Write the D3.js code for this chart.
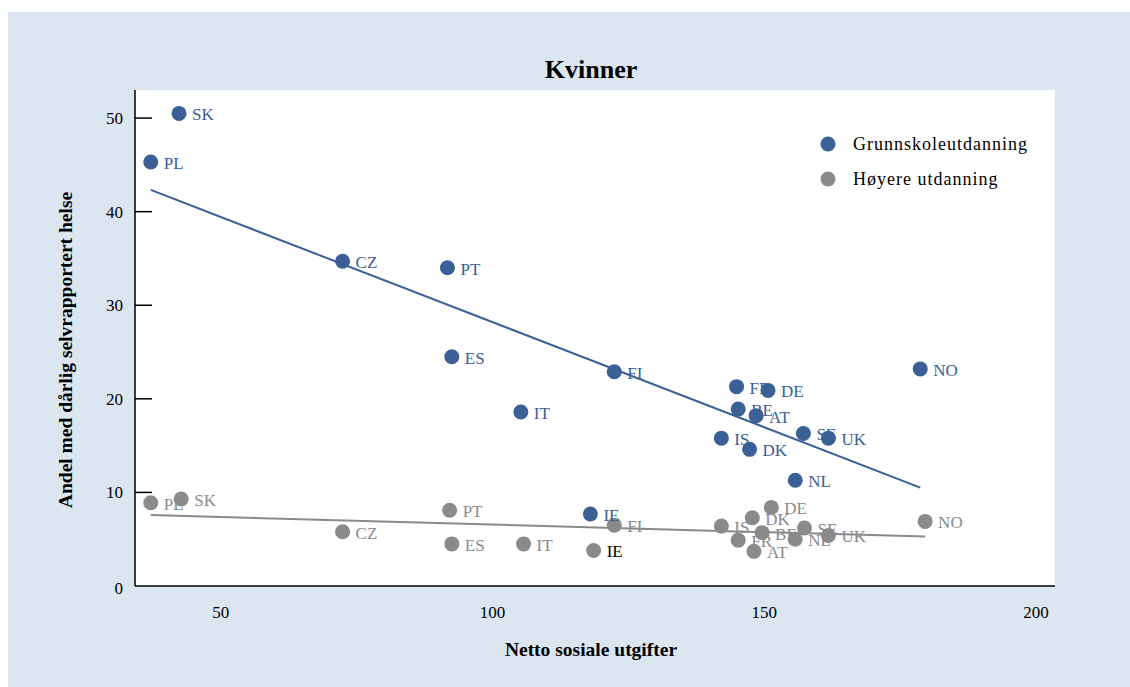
<!DOCTYPE html>
<html lang="no">
<head>
<meta charset="UTF-8">
<title>Kvinner</title>
<script src="https://d3js.org/d3.v7.min.js"></script>
<style>
body { margin: 0; background: #fff; }
svg text { font-family: "Liberation Serif", "DejaVu Serif", serif; }
</style>
</head>
<body>
<div id="chart"></div>
<script>
// Land og verdier lest av figuren
const countries = ["SK", "PL", "CZ", "PT", "ES", "IT", "IE", "FI", "FR", "DE", "BE", "AT", "IS", "SE", "UK", "DK", "NL", "NO"];
const lowX  = [42.3, 37.1, 72.4, 91.7, 92.5, 105.2, 118.0, 122.4, 144.9, 150.7, 145.2, 148.5, 142.1, 157.2, 161.8, 147.3, 155.7, 178.7];
const lowY  = [50.5, 45.3, 34.7, 34.0, 24.5, 18.6, 7.7, 22.9, 21.3, 20.9, 18.9, 18.2, 15.8, 16.3, 15.8, 14.6, 11.3, 23.2];
const highX = [42.7, 37.1, 72.4, 92.1, 92.5, 105.7, 118.6, 122.4, 145.2, 151.3, 149.6, 148.1, 142.1, 157.4, 161.8, 147.8, 155.7, 179.6];
const highY = [9.3, 8.9, 5.8, 8.1, 4.5, 4.5, 3.8, 6.5, 4.9, 8.4, 5.7, 3.7, 6.4, 6.2, 5.4, 7.3, 5.0, 6.9];
const seriesNames = ["Grunnskoleutdanning", "Høyere utdanning"];
const xTicks = [50, 100, 150, 200];
const yTicks = [0, 10, 20, 30, 40, 50];

const W = 1130, H = 687;
const plot = { left: 135, right: 1055, top: 90, bottom: 586 };
const blue = "#3a6096", grey = "#8a8a8a";

const svg = d3.select("#chart").append("svg")
    .attr("width", W).attr("height", H);

// bakgrunn
svg.append("rect").attr("x", 8).attr("y", 12).attr("width", W - 8).attr("height", H - 12)
    .attr("fill", "#dce6f1");
svg.append("rect").attr("x", plot.left).attr("y", plot.top)
    .attr("width", plot.right - plot.left).attr("height", plot.bottom - plot.top)
    .attr("fill", "#fff");

const x = d3.scaleLinear().domain([34.2, 203.5]).range([plot.left, plot.right]);
const y = d3.scaleLinear().domain([0, 53]).range([plot.bottom, plot.top]);

// tittel
svg.append("text").attr("x", 591).attr("y", 78).attr("text-anchor", "middle")
    .attr("font-size", 26).attr("font-weight", "bold").text("Kvinner");

// akser
svg.append("line").attr("x1", plot.left).attr("x2", plot.left)
    .attr("y1", plot.top).attr("y2", plot.bottom).attr("stroke", "#000").attr("stroke-width", 1.5);
svg.append("line").attr("x1", plot.left).attr("x2", plot.right)
    .attr("y1", plot.bottom).attr("y2", plot.bottom).attr("stroke", "#000").attr("stroke-width", 1.5);

svg.selectAll(".ytick").data(yTicks.filter(d => d > 0)).enter().append("line")
    .attr("x1", plot.left).attr("x2", plot.left + 17)
    .attr("y1", d => y(d)).attr("y2", d => y(d))
    .attr("stroke", "#000").attr("stroke-width", 1.5);
svg.selectAll(".ylab").data(yTicks).enter().append("text")
    .attr("x", 123).attr("y", d => y(d) + (d === 0 ? 2 : 0)).attr("dy", "0.35em")
    .attr("text-anchor", "end").attr("font-size", 17).text(d => d);
svg.selectAll(".xlab").data(xTicks).enter().append("text")
    .attr("x", d => x(d)).attr("y", 612).attr("dy", "0.35em")
    .attr("text-anchor", "middle").attr("font-size", 17).text(d => d);

svg.append("text").attr("x", 591).attr("y", 656).attr("text-anchor", "middle")
    .attr("font-size", 19.5).attr("font-weight", "bold").text("Netto sosiale utgifter");
svg.append("text").attr("transform", "translate(72,350) rotate(-90)")
    .attr("text-anchor", "middle").attr("font-size", 19.5).attr("font-weight", "bold")
    .text("Andel med dårlig selvrapportert helse");

// regresjonslinje (minste kvadraters metode)
function trend(xs, ys) {
    const mx = d3.mean(xs), my = d3.mean(ys);
    const b = d3.sum(xs, (v, i) => (v - mx) * (ys[i] - my)) / d3.sum(xs, v => (v - mx) ** 2);
    const x0 = d3.min(xs), x1 = d3.max(xs);
    return [[x0, my + b * (x0 - mx)], [x1, my + b * (x1 - mx)]];
}

const series = [
    { xs: lowX, ys: lowY, color: blue },
    { xs: highX, ys: highY, color: grey }
];

series.forEach(s => {
    const t = trend(s.xs, s.ys);
    svg.append("line")
        .attr("x1", x(t[0][0])).attr("y1", y(t[0][1]))
        .attr("x2", x(t[1][0])).attr("y2", y(t[1][1]))
        .attr("stroke", s.color).attr("stroke-width", 2);
});

// grå serie først, blå oppå
[series[1], series[0]].forEach(s => {
    const pts = countries.map((c, i) => ({ c, x: s.xs[i], y: s.ys[i] }));
    svg.append("g").selectAll("circle").data(pts).enter().append("circle")
        .attr("cx", d => x(d.x)).attr("cy", d => y(d.y)).attr("r", 7.5)
        .attr("fill", s.color);
    svg.append("g").selectAll("text").data(pts).enter().append("text")
        .attr("x", d => x(d.x) + 13).attr("y", d => y(d.y) + 1).attr("dy", "0.35em")
        .attr("font-size", 17)
        .attr("fill", d => (s.color === grey && d.c === "IE") ? "#000" : s.color)
        .text(d => d.c);
});

// forklaring
const legend = svg.append("g");
seriesNames.forEach((n, i) => {
    legend.append("circle").attr("cx", 828).attr("cy", 144 + i * 35).attr("r", 7.5)
        .attr("fill", i === 0 ? blue : grey);
    legend.append("text").attr("x", 853).attr("y", 144 + i * 35).attr("dy", "0.35em")
        .attr("font-size", 18).attr("letter-spacing", 1).text(n);
});
</script>
</body>
</html>
